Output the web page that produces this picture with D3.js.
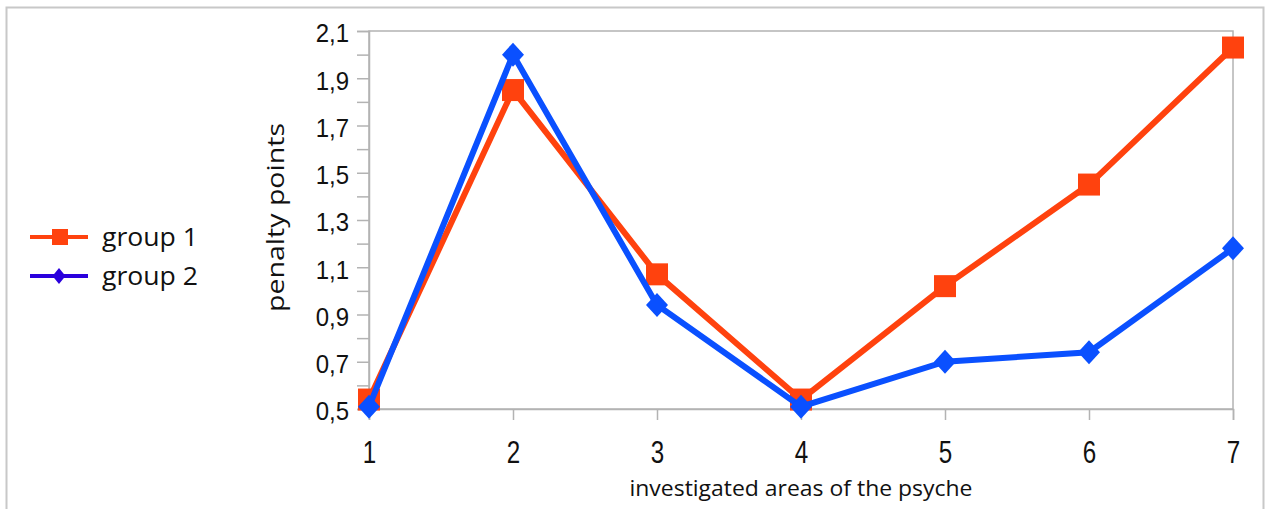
<!DOCTYPE html>
<html>
<head>
<meta charset="utf-8">
<script src="https://cdn.jsdelivr.net/npm/d3@7"></script>
<style>
  html, body { margin: 0; padding: 0; background: #fff; }
  svg { display: block; }
</style>
</head>
<body>
<svg id="chart" width="1265" height="509"></svg>
<script>
const categories = [1, 2, 3, 4, 5, 6, 7];
const group1 = [0.54, 1.85, 1.07, 0.54, 1.02, 1.45, 2.03];
const group2 = [0.51, 2.00, 0.94, 0.51, 0.70, 0.74, 1.18];
const seriesNames = ["group 1", "group 2"];
const yTicks = [0.5, 0.6, 0.7, 0.8, 0.9, 1.0, 1.1, 1.2, 1.3, 1.4, 1.5, 1.6, 1.7, 1.8, 1.9, 2.0, 2.1];
const yLabels = [0.5, 0.7, 0.9, 1.1, 1.3, 1.5, 1.7, 1.9, 2.1];
const xTitle = "investigated areas of the psyche";
const yTitle = "penalty points";

const svg = d3.select("#chart");
const grid = "#b3b3b3";
const orange = "#ff420e";
const blue = "#0a50ff";
const legendBlue = "#2a00dd";

// outer frame (top, left, right)
svg.append("path")
  .attr("d", "M6.5,510 L6.5,7.5 L1263.5,7.5 L1263.5,510")
  .attr("fill", "none").attr("stroke", "#c8c8c8").attr("stroke-width", 2);

const x = d3.scaleLinear().domain([1, 7]).range([369, 1233]);
const y = d3.scaleLinear().domain([0.5, 2.1]).range([409, 31]);

// plot frame
svg.append("rect")
  .attr("x", x(1)).attr("y", y(2.1))
  .attr("width", x(7) - x(1)).attr("height", y(0.5) - y(2.1))
  .attr("fill", "none").attr("stroke", grid).attr("stroke-width", 1.5);

const fmt = v => d3.format(".1f")(v).replace(".", ",");

// y axis minor/major ticks
const yAxis = svg.append("g").attr("transform", `translate(${x(1)},0)`)
  .call(d3.axisLeft(y).tickValues(yTicks).tickSize(12).tickFormat(""));
yAxis.select(".domain").attr("stroke", grid).attr("stroke-width", 1.5);
yAxis.selectAll(".tick line").attr("stroke", grid).attr("stroke-width", 1.5);

const yAxisL = svg.append("g").attr("transform", `translate(${x(1)},0)`)
  .call(d3.axisLeft(y).tickValues(yLabels).tickSize(12).tickPadding(8).tickFormat(fmt));
yAxisL.select(".domain").remove();
yAxisL.selectAll(".tick line").remove();
yAxisL.selectAll(".tick text")
  .attr("font-family", "'Liberation Sans', Arial, sans-serif")
  .attr("font-size", 24).attr("fill", "#111")
  .attr("transform", "scale(1,1.08)")
  .attr("dy", "0.42em");

// x axis
const xAxis = svg.append("g").attr("transform", `translate(0,${y(0.5)})`)
  .call(d3.axisBottom(x).tickValues(categories).tickSize(11).tickPadding(21).tickFormat(d3.format("d")));
xAxis.select(".domain").attr("stroke", grid).attr("stroke-width", 1.5);
xAxis.selectAll(".tick line").attr("stroke", grid).attr("stroke-width", 1.5);
xAxis.selectAll(".tick text")
  .attr("font-family", "'Liberation Sans', Arial, sans-serif")
  .attr("font-size", 31).attr("fill", "#111")
  .attr("transform", "scale(0.78,1)")
  .attr("dy", "0.71em");

// titles
svg.append("text")
  .attr("x", (x(1) + x(7)) / 2).attr("y", 496)
  .attr("text-anchor", "middle")
  .attr("font-family", "'Open Sans', sans-serif").attr("font-size", 21).attr("fill", "#111")
  .attr("textLength", 343).attr("lengthAdjust", "spacingAndGlyphs")
  .text(xTitle);

svg.append("text")
  .attr("transform", `translate(284,${(123 + 312) / 2}) rotate(-90)`)
  .attr("text-anchor", "middle")
  .attr("font-family", "'Open Sans', sans-serif").attr("font-size", 23).attr("fill", "#111")
  .attr("textLength", 189).attr("lengthAdjust", "spacingAndGlyphs")
  .text(yTitle);

// series
const line = d3.line().x((d, i) => x(categories[i])).y(d => y(d));
const diamond = (w, h) => `M0,${-h/2} L${w/2},0 L0,${h/2} L${-w/2},0 Z`;

svg.append("path").datum(group1)
  .attr("d", line).attr("fill", "none").attr("stroke", orange)
  .attr("stroke-width", 6).attr("stroke-linejoin", "miter");
svg.selectAll(".sq").data(group1).enter().append("rect")
  .attr("x", (d, i) => x(categories[i]) - 11).attr("y", d => y(d) - 11)
  .attr("width", 22).attr("height", 22).attr("fill", orange);

svg.append("path").datum(group2)
  .attr("d", line).attr("fill", "none").attr("stroke", blue)
  .attr("stroke-width", 6).attr("stroke-linejoin", "miter");
svg.selectAll(".dm").data(group2).enter().append("path")
  .attr("transform", (d, i) => `translate(${x(categories[i])},${y(d)})`)
  .attr("d", diamond(22, 24)).attr("fill", blue);

// legend
const legend = svg.append("g");
const lg = [
  { name: seriesNames[0], color: orange, ly: 237, shape: "square" },
  { name: seriesNames[1], color: legendBlue, ly: 276, shape: "diamond" }
];
lg.forEach(s => {
  legend.append("line").attr("x1", 30).attr("x2", 88).attr("y1", s.ly).attr("y2", s.ly)
    .attr("stroke", s.color).attr("stroke-width", 4);
  if (s.shape === "square") {
    legend.append("rect").attr("x", 52).attr("y", s.ly - 8).attr("width", 16).attr("height", 16).attr("fill", s.color);
  } else {
    legend.append("path").attr("transform", `translate(59,${s.ly})`).attr("d", diamond(13, 16)).attr("fill", s.color);
  }
  legend.append("text").attr("x", 102).attr("y", s.ly + 9)
    .attr("font-family", "'Open Sans', sans-serif").attr("font-size", 25).attr("fill", "#111")
    .attr("textLength", 96).attr("lengthAdjust", "spacingAndGlyphs")
    .text(s.name);
});
</script>
</body>
</html>
